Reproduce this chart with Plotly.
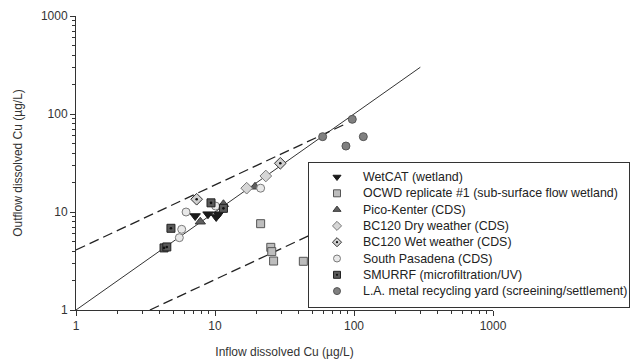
import plotly.graph_objects as go

# ---- data ----
series_names = [
    "WetCAT (wetland)",
    "OCWD replicate #1 (sub-surface flow wetland)",
    "Pico-Kenter (CDS)",
    "BC120 Dry weather (CDS)",
    "BC120 Wet weather (CDS)",
    "South Pasadena (CDS)",
    "SMURRF (microfiltration/UV)",
    "L.A. metal recycling yard (screeining/settlement)",
]

wetcat_in = [7.2, 8.9, 10.2, 10.6]
wetcat_out = [9.1, 9.5, 8.9, 9.5]

ocwd_in = [21.3, 25.2, 25.6, 26.4, 43.2]
ocwd_out = [7.6, 4.36, 3.94, 3.16, 3.14]

pico_in = [7.84, 11.5, 19.4]
pico_out = [7.96, 12.0, 18.1]

bc_dry_in = [16.9, 23.2]
bc_dry_out = [17.5, 23.3]

bc_wet_in = [7.38, 29.5]
bc_wet_out = [13.5, 31.4]

pasadena_in = [6.19, 5.76, 5.54, 10.1, 21.3]
pasadena_out = [10.0, 6.66, 5.47, 11.5, 17.5]

smurrf_in = [4.3, 4.5, 4.82, 9.36, 11.5]
smurrf_out = [4.3, 4.4, 6.82, 12.4, 10.9]

la_in = [59.5, 97.2, 87.5, 116.7]
la_out = [58.7, 88.3, 47.1, 58.7]

# reference lines
line_11_x = [1, 300]
line_11_y = [1, 300]
upper_x = [1, 85]
upper_y = [4.1, 78]
lower_x = [3.4, 47]
lower_y = [1, 5.7]

xs = [wetcat_in, ocwd_in, pico_in, bc_dry_in, bc_wet_in, pasadena_in, smurrf_in, la_in]
ys = [wetcat_out, ocwd_out, pico_out, bc_dry_out, bc_wet_out, pasadena_out, smurrf_out, la_out]

styles = [
    dict(symbol="triangle-down", color="#1a1a1a", line=dict(color="#1a1a1a", width=1)),
    dict(symbol="square", color="#bdbdbd", line=dict(color="#555555", width=1)),
    dict(symbol="triangle-up", color="#5f5f5f", line=dict(color="#3a3a3a", width=1)),
    dict(symbol="diamond", color="#d6d6d6", line=dict(color="#777777", width=1)),
    dict(symbol="diamond", color="#cfcfcf", line=dict(color="#333333", width=1)),
    dict(symbol="circle", color="#e8e8e8", line=dict(color="#7a7a7a", width=1)),
    dict(symbol="square", color="#5a5a5a", line=dict(color="#222222", width=1)),
    dict(symbol="circle", color="#808080", line=dict(color="#555555", width=1)),
]
sizes = [9, 8, 9, 9, 9, 8, 8, 8]
has_dot = [False, False, False, False, True, False, True, False]
DOT = dict(symbol="circle", size=2.6, color="#111111", line=dict(width=0))

FONT = "Liberation Sans, Arial, sans-serif"
fig = go.Figure()

# reference lines
fig.add_trace(go.Scatter(x=line_11_x, y=line_11_y, mode="lines",
                         line=dict(color="#333333", width=1), showlegend=False))
fig.add_trace(go.Scatter(x=upper_x, y=upper_y, mode="lines",
                         line=dict(color="#222222", width=1.3, dash="10px,5px"), showlegend=False))
fig.add_trace(go.Scatter(x=lower_x, y=lower_y, mode="lines",
                         line=dict(color="#222222", width=1.3, dash="10px,5px"), showlegend=False))

for name, x, y, st, sz, dot in zip(series_names, xs, ys, styles, sizes, has_dot):
    fig.add_trace(go.Scatter(x=x, y=y, mode="markers", name=name, showlegend=False,
                             marker=dict(size=sz, **st)))
    if dot:
        fig.add_trace(go.Scatter(x=x, y=y, mode="markers", showlegend=False, marker=DOT))

# legend drawn in its own small subplot (box frame from its axes)
row0, row_step = 14, 16.3
for i, (name, st, dot) in enumerate(zip(series_names, styles, has_dot)):
    yy = row0 + i * row_step
    fig.add_trace(go.Scatter(x=[28], y=[yy], mode="markers", xaxis="x2", yaxis="y2",
                             showlegend=False, marker=dict(size=7, **st)))
    if dot:
        fig.add_trace(go.Scatter(x=[28], y=[yy], mode="markers", xaxis="x2", yaxis="y2",
                                 showlegend=False, marker=dict(DOT, size=2.2)))
    fig.add_annotation(x=52, y=yy, xref="x2", yref="y2", text=name, showarrow=False,
                       xanchor="left", yanchor="middle",
                       font=dict(family=FONT, size=12.4, color="#222222"))

L, R, T, B = 76, 10, 16, 52
W, H = 639, 362
pw = W - L - R
ph = H - T - B
main_right = 493
leg_x0, leg_x1, leg_y0, leg_y1 = 309, 629, 163, 307

axis_common = dict(
    type="log", range=[0, 3], showgrid=False, zeroline=False,
    showline=True, linecolor="#333333", linewidth=1,
    ticks="outside", ticklen=5, tickcolor="#333333", tickwidth=1,
    tickvals=[1, 10, 100, 1000], ticktext=["1", "10", "100", "1000"],
    tickfont=dict(family=FONT, size=12, color="#333333"),
    minor=dict(ticks="outside", ticklen=3, tickcolor="#333333", dtick="D1", showgrid=False),
    automargin=False,
)

fig.update_layout(
    width=W, height=H,
    margin=dict(l=L, r=R, t=T, b=B),
    paper_bgcolor="white", plot_bgcolor="white",
    showlegend=False,
    xaxis=dict(domain=[0, (main_right - L) / pw],
               title=dict(text="Inflow dissolved Cu (µg/L)", standoff=15,
                          font=dict(family=FONT, size=12, color="#333333")),
               **axis_common),
    yaxis=dict(domain=[0, 1],
               title=dict(text="Outflow dissolved Cu (µg/L)", standoff=15,
                          font=dict(family=FONT, size=12, color="#333333")),
               **axis_common),
    xaxis2=dict(domain=[(leg_x0 - L) / pw, (leg_x1 - L) / pw], range=[0, leg_x1 - leg_x0],
                anchor="y2", showgrid=False, zeroline=False, showticklabels=False,
                ticks="", showline=True, mirror=True, linecolor="#333333", linewidth=1,
                fixedrange=True),
    yaxis2=dict(domain=[(H - B - leg_y1) / ph, (H - B - leg_y0) / ph],
                range=[leg_y1 - leg_y0, 0], anchor="x2", showgrid=False, zeroline=False,
                showticklabels=False, ticks="", showline=True, mirror=True,
                linecolor="#333333", linewidth=1, fixedrange=True),
)

fig.write_html("out.html", config={"displayModeBar": False},
               post_script="document.body.style.margin='0';")
